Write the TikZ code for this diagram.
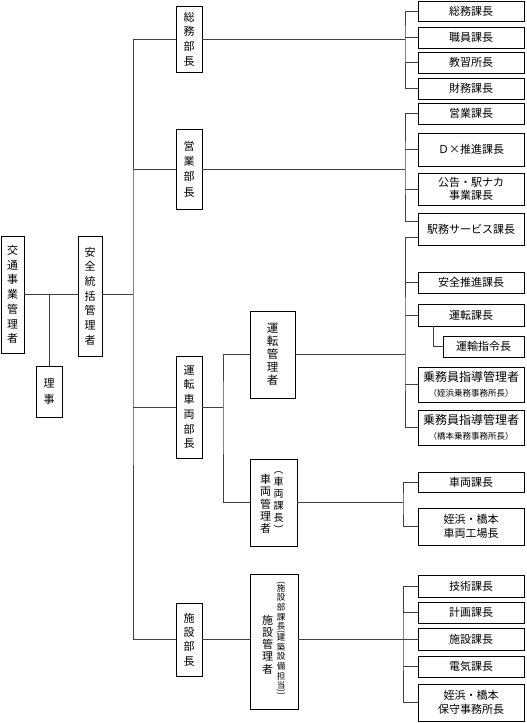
\documentclass[tikz,border=0pt]{standalone}
\usepackage{fontspec}
\usepackage{graphicx}
\setmainfont{Noto Sans CJK JP}
\newcommand\vparl{\rotatebox[origin=c]{-90}{(}}
\newcommand\vparr{\rotatebox[origin=c]{-90}{)}}
\tikzset{
  box/.style={draw=black, line width=0.9pt, inner sep=0pt, outer sep=0pt, fill=white, align=center, font=\fontsize{11}{13}\selectfont},
  vbox/.style={box, font=\fontsize{11}{14.7}\selectfont},
  rbox/.style={box, minimum width=106pt},
  vtxt/.style={inner sep=0pt, outer sep=0pt, align=center},
  conn/.style={draw=black!75, line width=0.8pt, line join=miter},
}
\begin{document}
\begin{tikzpicture}[x=1pt,y=-1pt]
\useasboundingbox (0,0) rectangle (527,723);
% left column
\node[vbox, minimum width=23pt, minimum height=117pt] (koutsu) at (12.5,294.5) {交\\通\\事\\業\\管\\理\\者};
\node[vbox, minimum width=24pt, minimum height=120pt] (anzen) at (90,296) {安\\全\\統\\括\\管\\理\\者};
\node[vbox, minimum width=26pt, minimum height=51pt, font=\fontsize{11}{15.3}\selectfont] (riji) at (49,391.5) {理\\事};
% department heads
\node[vbox, minimum width=26pt, minimum height=66pt] (bu1) at (189,39) {総\\務\\部\\長};
\node[vbox, minimum width=26pt, minimum height=80pt, font=\fontsize{11}{15.3}\selectfont] (bu2) at (189,169) {営\\業\\部\\長};
\node[vbox, minimum width=26pt, minimum height=102pt] (bu3) at (189,407) {運\\転\\車\\両\\部\\長};
\node[vbox, minimum width=26pt, minimum height=73pt, font=\fontsize{11}{14.4}\selectfont] (bu4) at (189,639.5) {施\\設\\部\\長};
% managers
\node[vbox, minimum width=45pt, minimum height=87pt, font=\fontsize{11.5}{13}\selectfont] (m1) at (272.5,354.5) {運\\転\\管\\理\\者};
\node[box, minimum width=47pt, minimum height=87pt] (m2) at (273.5,502.5) {};
\node[vtxt, font=\fontsize{11}{12.2}\selectfont] (m2a) at (265.7,504) {車\\両\\管\\理\\者};
\node[vtxt, font=\fontsize{10}{12}\selectfont] (m2b) at (278.5,502.5) {︵\\車\\両\\課\\長\\︶};
\node[box, minimum width=48pt, minimum height=135pt] (m3) at (274,641.5) {};
\node[vtxt, font=\fontsize{11}{12.2}\selectfont] (m3a) at (267.5,644.5) {施\\設\\管\\理\\者};
\node[vtxt, font=\fontsize{8.5}{9.6}\selectfont] (m3b) at (281,639) {\vparl\\[-3.4pt]施\\設\\部\\課\\長\\[-4.8pt]\vparl\\[-3.4pt]建\\築\\設\\備\\担\\当\\[-4.8pt]\vparr\\[-6.3pt]\vparr};
% right column
\node[rbox, minimum height=20pt] (k1) at (471,11) {総務課長};
\node[rbox, minimum height=21pt] (k2) at (471,37.5) {職員課長};
\node[rbox, minimum height=21pt] (k3) at (471,62.5) {教習所長};
\node[rbox, minimum height=21pt] (k4) at (471,88.5) {財務課長};
\node[rbox, minimum height=21pt] (e1) at (471,113.5) {営業課長};
\node[rbox, minimum height=33pt] (e2) at (471,149.5) {Ｄ×推進課長};
\node[rbox, minimum height=32pt] (e3) at (471,189) {公告・駅ナカ\\事業課長};
\node[rbox, minimum height=32pt] (e4) at (471,229) {駅務サービス課長};
\node[rbox, minimum height=21pt] (u1) at (471,282.5) {安全推進課長};
\node[rbox, minimum height=22pt] (u2) at (471,315) {運転課長};
\node[box, minimum width=81pt, minimum height=21pt] (u3) at (483.5,346.5) {運輸指令長};
\node[rbox, minimum height=35pt, font=\fontsize{12}{15.5}\selectfont] (u4) at (471,384.5) {乗務員指導管理者\\{\fontsize{8.5}{10}\selectfont （姪浜乗務事務所長）}};
\node[rbox, minimum height=35pt, font=\fontsize{12}{15.5}\selectfont] (u5) at (471,427.5) {乗務員指導管理者\\{\fontsize{8.5}{10}\selectfont （橋本乗務事務所長）}};
\node[rbox, minimum height=20pt] (s1) at (471,482) {車両課長};
\node[rbox, minimum height=37pt, font=\fontsize{11}{14}\selectfont] (s2) at (471,526.5) {姪浜・橋本\\車両工場長};
\node[rbox, minimum height=22pt] (f1) at (471,586) {技術課長};
\node[rbox, minimum height=21pt] (f2) at (471,612.5) {計画課長};
\node[rbox, minimum height=22pt] (f3) at (471,639) {施設課長};
\node[rbox, minimum height=21pt] (f4) at (471,666.5) {電気課長};
\node[rbox, minimum height=37pt, font=\fontsize{11}{14}\selectfont] (f5) at (471,702.5) {姪浜・橋本\\保守事務所長};
% junctions
\coordinate (t0) at (133,294.5);
\coordinate (b1) at (405,39);
\coordinate (b2) at (405,169);
\coordinate (b3) at (405,354.5);
\coordinate (j3) at (223,407);
\coordinate (b4) at (403,502.5);
\coordinate (b5) at (403,639.5);
% connectors
\draw[conn] (koutsu.east |- t0) -- (anzen.west |- t0);
\draw[conn] (riji.north) -- (riji.north |- t0);
\draw[conn] (anzen.east |- t0) -- (t0);
\draw[conn] (bu1.west) -| (t0) |- (bu4.west);
\draw[conn] (bu2.west) -- (bu2.west -| t0);
\draw[conn] (bu3.west) -- (bu3.west -| t0);
% general affairs
\draw[conn] (bu1.east) -- (b1);
\draw[conn] (k1.west) -| (b1) |- (k4.west);
\draw[conn] (k2.west) -- (k2.west -| b1);
\draw[conn] (k3.west) -- (k3.west -| b1);
% sales
\draw[conn] (bu2.east) -- (b2);
\draw[conn] (e1.west) -| (b2) |- ([yshift=8pt]e4.west);
\draw[conn] (e2.west) -- (e2.west -| b2);
\draw[conn] (e3.west) -- (e3.west -| b2);
% operations and rolling stock
\draw[conn] (bu3.east) -- (j3);
\draw[conn] (m1.west) -| (j3) |- (m2.west);
\draw[conn] (m1.east) -- (b3);
\draw[conn] ([yshift=-8pt]e4.west) -| (b3) |- (u5.west);
\draw[conn] (u1.west) -- (u1.west -| b3);
\draw[conn] (u2.west) -- (u2.west -| b3);
\draw[conn] (u4.west) -- (u4.west -| b3);
\draw[conn] ([xshift=-38pt]u2.south) |- (u3.west);
\draw[conn] (m2.east) -- (b4);
\draw[conn] (s1.west) -| (b4) |- (s2.west);
% facilities
\draw[conn] (bu4.east) -- (m3.west |- bu4.east);
\draw[conn] (m3.east |- b5) -- (b5);
\draw[conn] (f1.west) -| (b5) |- (f5.west);
\draw[conn] (f2.west) -- (f2.west -| b5);
\draw[conn] (f3.west) -- (f3.west -| b5);
\draw[conn] (f4.west) -- (f4.west -| b5);
\end{tikzpicture}
\end{document}
